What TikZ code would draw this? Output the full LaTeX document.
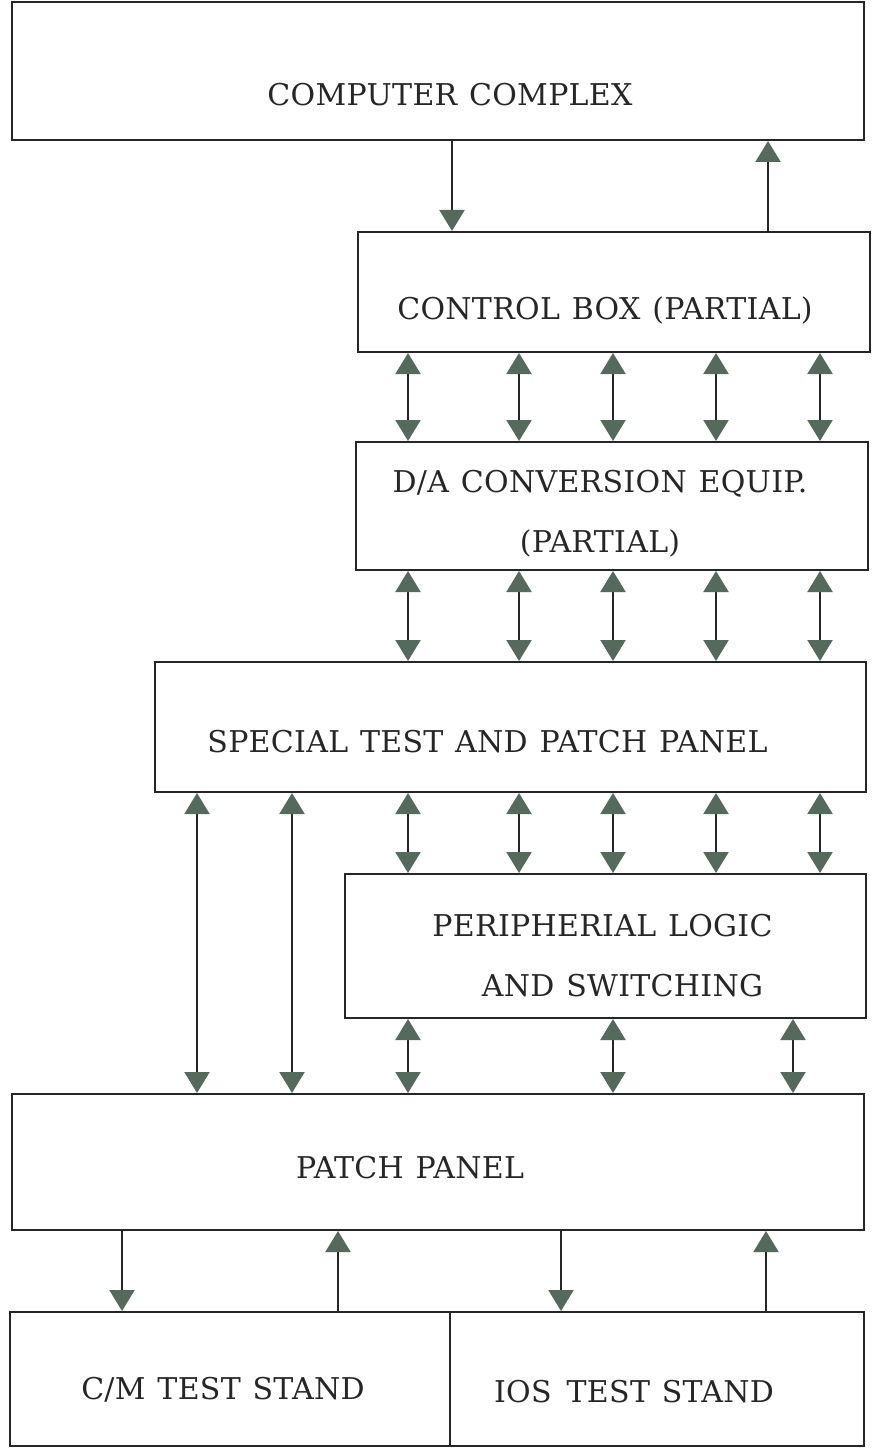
\documentclass[tikz,border=0pt]{standalone}
\usepackage{fontspec}
\setmainfont{DejaVu Serif}
\newfontfamily\labelfont{DejaVu Serif}[LetterSpace=1,WordSpace=1.2]
\usetikzlibrary{arrows.meta,calc,positioning}
\definecolor{ink}{HTML}{262626}
\definecolor{tip}{HTML}{56695D}
\tikzset{x=0.5pt,y=-0.5pt,
  unit/.style={draw=ink,line width=1pt,inner sep=0pt},
  tag/.style={inner sep=0pt,align=center,text=ink,
    font=\labelfont\fontsize{15}{30}\selectfont},
  tipend/.tip={Triangle[width=12.5pt,length=10.5pt,color=tip]},
  link/.style={draw=ink,line width=1.1pt},
  dbl/.style={link,tipend-tipend},
  down/.style={link,-tipend},
  up/.style={link,tipend-}}

\begin{document}
\begin{tikzpicture}
\useasboundingbox (0,0) rectangle (874,1449);
% boxes
\node[unit,minimum width=426pt,minimum height=69pt] (comp) at (438,71) {};
\node[unit,minimum width=256pt,minimum height=60pt] (ctrl) at (614,292) {};
\node[unit,minimum width=256pt,minimum height=64pt] (da) at (612,506) {};
\node[unit,minimum width=355.5pt,minimum height=65pt] (stp) at (510.5,727) {};
\node[unit,minimum width=260.5pt,minimum height=72pt] (per) at (605.5,946) {};
\node[unit,minimum width=426pt,minimum height=68pt] (pp) at (438,1162) {};
\node[unit,minimum width=220pt,minimum height=67pt] (cm) at (230,1379) {};
\node[unit,minimum width=207pt,minimum height=67pt] (ios) at (657,1379) {};
% texts
\node[tag] (compt) at ([shift={(12,24)}]comp.center) {COMPUTER COMPLEX};
\node[tag] (ctrlt) at ([shift={(-9,18)}]ctrl.center) {CONTROL BOX (PARTIAL)};
\node[tag] (dat) at ([shift={(-12,8)}]da.center) {D/A CONVERSION EQUIP.\\(PARTIAL)};
\node[tag] (stpt) at ([shift={(-23,15)}]stp.center) {SPECIAL TEST AND PATCH PANEL};
\node[tag] (pert) at ([shift={(-3,10)}]per.center) {PERIPHERIAL LOGIC\\\hspace{20pt}AND SWITCHING};
\node[tag] (ppt) at ([shift={(-28,6)}]pp.center) {PATCH PANEL};
\node[tag] (cmt) at ([shift={(-7,11)}]cm.center) {C/M TEST STAND};
\node[tag] (iost) at ([shift={(-23,13)}]ios.center) {IOS\enspace TEST STAND};
% computer <-> control
\draw[down] (452,0 |- comp.south) -- (452,0 |- ctrl.north);
\draw[up] (768,0 |- comp.south) -- (768,0 |- ctrl.north);
% bus columns
\foreach \cx in {408,519,613,716,820}{
  \draw[dbl] (\cx,0 |- ctrl.south) -- (\cx,0 |- da.north);
  \draw[dbl] (\cx,0 |- da.south) -- (\cx,0 |- stp.north);
  \draw[dbl] (\cx,0 |- stp.south) -- (\cx,0 |- per.north);
}
\foreach \cx in {197,292}
  \draw[dbl] (\cx,0 |- stp.south) -- (\cx,0 |- pp.north);
\foreach \cx in {408,613,793}
  \draw[dbl] (\cx,0 |- per.south) -- (\cx,0 |- pp.north);
% patch panel <-> test stands
\draw[down] (122,0 |- pp.south) -- (122,0 |- cm.north);
\draw[up] (338,0 |- pp.south) -- (338,0 |- cm.north);
\draw[down] (561,0 |- pp.south) -- (561,0 |- ios.north);
\draw[up] (766,0 |- pp.south) -- (766,0 |- ios.north);
\end{tikzpicture}
\end{document}
